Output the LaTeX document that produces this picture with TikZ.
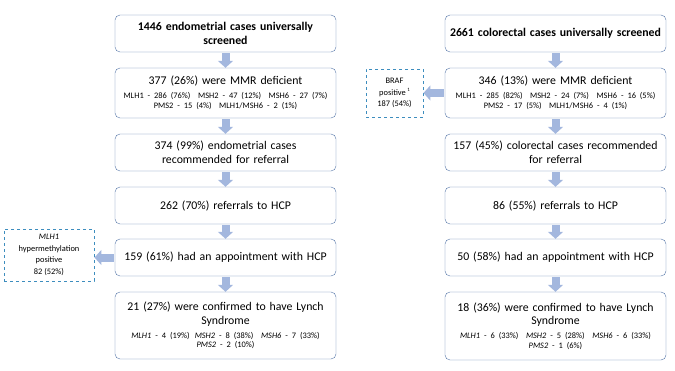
\documentclass[tikz,border=0pt]{standalone}
\usepackage{fontspec}
\setmainfont{Carlito}
\usetikzlibrary{arrows.meta,positioning}
\definecolor{boxline}{HTML}{5475A8}
\definecolor{flowarrow}{HTML}{A3B7DE}
\definecolor{dashline}{HTML}{3D8DBE}
\newcommand\genefont{\fontsize{8.4}{9.8}\selectfont}
\tikzset{line width=.8pt,
  flowbox/.style={draw=boxline,rounded corners=5pt,fill=white,text width=215pt,align=center,inner sep=3pt,font=\fontsize{11.8}{13.8}\selectfont},
  sidebox/.style={draw=dashline,dashed,line width=.9pt,align=center,inner sep=2pt,font=\fontsize{8.4}{11.5}\selectfont},
  blockarrow/.style={draw=flowarrow,line width=8pt,-{Triangle[width=15pt,length=7pt]},shorten <=1pt}}
\begin{document}
\begin{tikzpicture}[x=1pt,y=-1pt]
\useasboundingbox (0,0) rectangle (675,370);
% left column: endometrial
\node[flowbox,minimum height=37pt](e1)at(225.5,33.5){\textbf{1446 endometrial cases universally\\screened}};
\node[flowbox,minimum height=50pt](e2)at(225.5,93){377 (26\%) were MMR deficient\par\vspace{4.5pt}{\genefont MLH1 - 286 (76\%)\hspace{.9em}MSH2 - 47 (12\%)\hspace{.9em}MSH6 - 27 (7\%)\\PMS2 - 15 (4\%)\hspace{.9em}MLH1/MSH6 - 2 (1\%)\par}};
\node[flowbox,minimum height=37pt](e3)at(225.5,152.5){374 (99\%) endometrial cases\\recommended for referral};
\node[flowbox,minimum height=37pt](e4)at(225.5,205.5){262 (70\%) referrals to HCP};
\node[flowbox,minimum height=37pt](e5)at(225.5,257.5){159 (61\%) had an appointment with HCP};
\node[flowbox,minimum height=67pt](e6)at(225.5,325.5){21 (27\%) were confirmed to have Lynch\\Syndrome\par\vspace{4pt}{\genefont\textit{MLH1} - 4 (19\%)\hspace{.6em}\textit{MSH2} - 8 (38\%)\hspace{.9em}\textit{MSH6} - 7 (33\%)\\\textit{PMS2} - 2 (10\%)\par}};
% right column: colorectal
\node[flowbox,minimum height=37pt](c1)at(555.5,33.5){\textbf{2661 colorectal cases universally screened}};
\node[flowbox,minimum height=50pt](c2)at(555.5,93){346 (13\%) were MMR deficient\par\vspace{4.5pt}{\genefont MLH1 - 285 (82\%)\hspace{.9em}MSH2 - 24 (7\%)\hspace{.9em}MSH6 - 16 (5\%)\\PMS2 - 17 (5\%)\hspace{.9em}MLH1/MSH6 - 4 (1\%)\par}};
\node[flowbox,minimum height=37pt](c3)at(555.5,152.5){157 (45\%) colorectal cases recommended\\for referral};
\node[flowbox,minimum height=37pt](c4)at(555.5,205.5){86 (55\%) referrals to HCP};
\node[flowbox,minimum height=37pt](c5)at(555.5,257.5){50 (58\%) had an appointment with HCP};
\node[flowbox,minimum height=68pt](c6)at(555.5,326){18 (36\%) were confirmed to have Lynch\\Syndrome\par\vspace{4pt}{\genefont\textit{MLH1} - 6 (33\%)\hspace{.9em}\textit{MSH2} - 5 (28\%)\hspace{.9em}\textit{MSH6} - 6 (33\%)\\\textit{PMS2} - 1 (6\%)\par}};
% side boxes
\node[sidebox,minimum width=57pt,minimum height=48pt](braf)at(394.5,93){BRAF\\positive\,\raisebox{4pt}{\fontsize{5}{5}\selectfont 1}\\187 (54\%)};
\node[sidebox,minimum width=90pt,minimum height=52pt](hyper)at(49,255){\textit{MLH1}\\hypermethylation\\positive\\82 (52\%)};
\foreach \a/\b in {e1/e2,e2/e3,e3/e4,e4/e5,e5/e6,c1/c2,c2/c3,c3/c4,c4/c5,c5/c6}{\draw[blockarrow](\a)--(\b);}
\draw[blockarrow](c2.west|-braf)--(braf);
\draw[blockarrow](e5.west)--(hyper.east|-e5.west);
\end{tikzpicture}
\end{document}
